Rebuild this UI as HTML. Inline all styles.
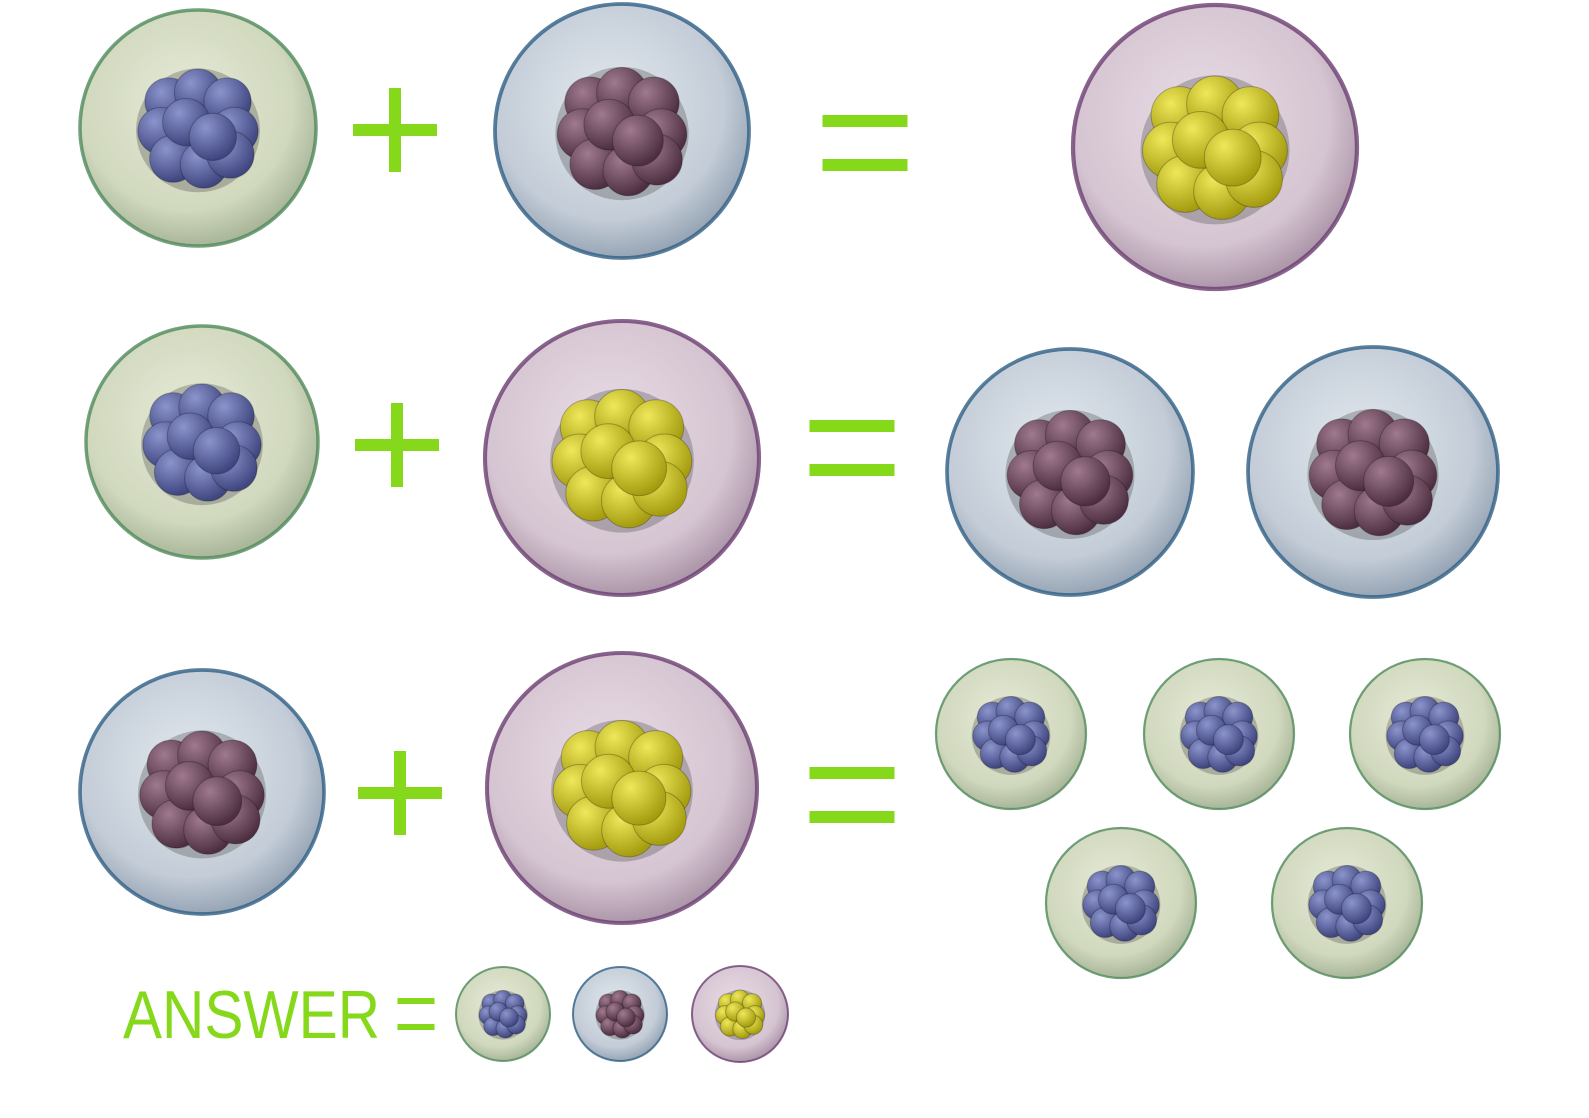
<!DOCTYPE html>
<html><head><meta charset="utf-8"><style>
html,body{margin:0;padding:0;background:#fff;width:1589px;height:1118px;overflow:hidden}
svg{display:block}
</style></head><body>
<svg id="scene" width="1589" height="1118" viewBox="0 0 1589 1118" xmlns="http://www.w3.org/2000/svg">
<defs>
<radialGradient id="gGreen" cx="45%" cy="40%" r="60%"><stop offset="0" stop-color="#e6ead8"/><stop offset="0.75" stop-color="#d0d8bd"/><stop offset="1" stop-color="#a9b69a"/></radialGradient>
<radialGradient id="gBlue" cx="45%" cy="40%" r="60%"><stop offset="0" stop-color="#e2e8ee"/><stop offset="0.75" stop-color="#c3ccd7"/><stop offset="1" stop-color="#97a5b5"/></radialGradient>
<radialGradient id="gPurple" cx="45%" cy="40%" r="60%"><stop offset="0" stop-color="#e9dde6"/><stop offset="0.75" stop-color="#d5c4d1"/><stop offset="1" stop-color="#ad97aa"/></radialGradient>
<radialGradient id="nGreen" cx="35%" cy="30%" r="70%"><stop offset="0" stop-color="#8c94cc"/><stop offset="1" stop-color="#3f4680"/></radialGradient>
<radialGradient id="nBlue" cx="35%" cy="30%" r="70%"><stop offset="0" stop-color="#a07a8e"/><stop offset="1" stop-color="#4e2f42"/></radialGradient>
<radialGradient id="nPurple" cx="35%" cy="30%" r="70%"><stop offset="0" stop-color="#eee85a"/><stop offset="1" stop-color="#a59c10"/></radialGradient>
</defs>
<g id="cells"></g>
<g id="ops" fill="#86d81a"></g>
<text x="123" y="1038" font-family="Liberation Sans, sans-serif" font-size="68" fill="#86d81a" textLength="257" lengthAdjust="spacingAndGlyphs">ANSWER</text>
</svg>
<script>
const kinds = {
  green:{fill:'url(#gGreen)',edge:'#4f8a5a',nuc:'url(#nGreen)'},
  blue:{fill:'url(#gBlue)',edge:'#2f5f85',nuc:'url(#nBlue)'},
  purple:{fill:'url(#gPurple)',edge:'#6b3e72',nuc:'url(#nPurple)'}
};
const cellKinds = ['green','blue','purple','green','purple','blue','blue','blue','purple','green','green','green','green','green','green','blue','purple'];
const cellX = [198,622,1215,202,622,1070,1373,202,622,1011,1219,1425,1121,1347,503,620,740];
const cellY = [128,131,147,442,458,472,472,792,788,734,734,734,903,903,1014,1014,1014];
const cellR = [118,127,142,116,137,123,125,122,135,75,75,75,75,75,47,47,48];
const plusX = [395,397,400];
const plusY = [130,445,793];
const eqX = [865,852,852,416];
const eqY = [143,448,795,1014];
const eqW = [85,85,85,37];
const NS='http://www.w3.org/2000/svg';
const cg=document.getElementById('cells');
const og=document.getElementById('ops');
const blobs=[[0,0],[-0.5,-0.45],[0,-0.6],[0.5,-0.45],[-0.62,0.05],[0.62,0.05],[-0.42,0.52],[0.1,0.62],[0.55,0.45],[-0.2,-0.1],[0.25,0.15]];
function mk(t,a){const e=document.createElementNS(NS,t);for(const k in a)e.setAttribute(k,a[k]);return e;}
for(let i=0;i<cellX.length;i++){
  const k=kinds[cellKinds[i]],x=cellX[i],y=cellY[i],r=cellR[i];
  const g=mk('g',{});
  
  
  g.appendChild(mk('circle',{cx:x,cy:y,r:r,fill:k.fill,stroke:k.edge,'stroke-width':Math.max(2,r*0.03),'stroke-opacity':0.8}));
  const nr=r*0.5;
  const ng=mk('g',{});
  
  
  ng.appendChild(mk('circle',{cx:x,cy:y+r*0.02,r:nr*1.05,fill:'#555',opacity:0.35}));
  for(const b of blobs){
    ng.appendChild(mk('circle',{cx:x+b[0]*nr,cy:y+b[1]*nr,r:nr*0.4,fill:k.nuc,stroke:'rgba(0,0,0,0.25)','stroke-width':1}));
  }
  g.appendChild(ng);
  cg.appendChild(g);
}
for(let i=0;i<plusX.length;i++){
  const g=mk('g',{});
  
  
  g.appendChild(mk('rect',{x:plusX[i]-42,y:plusY[i]-6,width:84,height:12}));
  g.appendChild(mk('rect',{x:plusX[i]-6,y:plusY[i]-42,width:12,height:84}));
  og.appendChild(g);
}
for(let i=0;i<eqX.length;i++){
  const g=mk('g',{});
  
  
  const w=eqW[i],h=w>50?12:6,gap=w>50?16:10;
  g.appendChild(mk('rect',{x:eqX[i]-w/2,y:eqY[i]-gap-h,width:w,height:h}));
  g.appendChild(mk('rect',{x:eqX[i]-w/2,y:eqY[i]+gap,width:w,height:h}));
  og.appendChild(g);
}
</script>
</body></html>
